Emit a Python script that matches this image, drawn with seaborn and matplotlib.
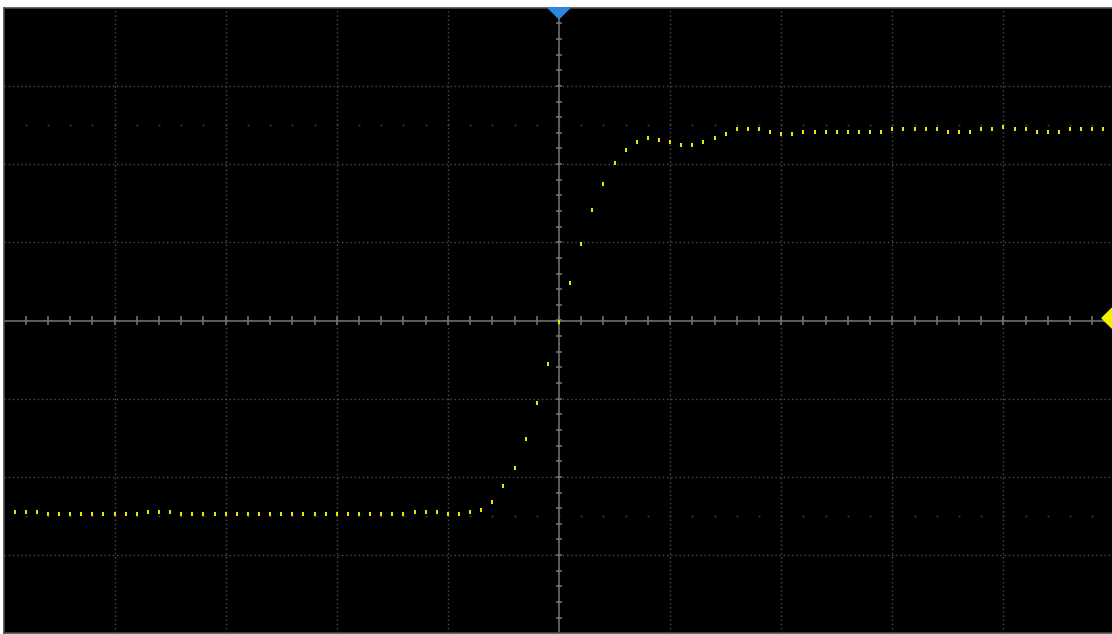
import numpy as np
import pandas as pd
import matplotlib
matplotlib.use("Agg")
import matplotlib.pyplot as plt
import seaborn as sns

# sample positions in divisions (one sample every 0.1 div)
time_div = np.arange(-49, 50) / 10.0

# trace amplitude in divisions
volts_div = [
    -2.45, -2.45, -2.45,
    -2.48, -2.48, -2.48, -2.48, -2.48, -2.48, -2.48, -2.48, -2.48,
    -2.45, -2.45, -2.45,
    -2.48, -2.48, -2.48, -2.48, -2.48, -2.48, -2.48, -2.48, -2.48, -2.48,
    -2.48, -2.48, -2.48, -2.48, -2.48, -2.48, -2.48, -2.48, -2.48, -2.48, -2.48,
    -2.45, -2.45, -2.45,
    -2.48, -2.48,
    -2.45, -2.42, -2.32, -2.12, -1.89, -1.52, -1.06, -0.55,
    -0.02, 0.48, 0.98, 1.41, 1.75, 2.01, 2.18, 2.28, 2.34, 2.31,
    2.28, 2.24, 2.24, 2.28, 2.34, 2.38, 2.45, 2.45, 2.45, 2.41,
    2.38, 2.38, 2.41, 2.41, 2.41, 2.41, 2.41, 2.41, 2.41, 2.41,
    2.45, 2.45, 2.45, 2.45, 2.45, 2.41, 2.41, 2.41, 2.45, 2.45,
    2.48, 2.45, 2.45, 2.41, 2.41, 2.41, 2.45, 2.45, 2.45, 2.45,
]

# faint reference rows of dots
ref_levels = [2.5, -2.5]

df = pd.DataFrame({"t": time_div, "v": volts_div})

sns.set_style("dark")
fig = plt.figure(figsize=(11.12, 6.34), dpi=100, facecolor="white")
# plot area: x 3.5..1114.5 px, y 7.7..633.3 px
ax = fig.add_axes([3.5 / 1112, 0.7 / 634, 1111 / 1112, 625.6 / 634])
ax.set_facecolor("black")
ax.set_xlim(-5, 5)
ax.set_ylim(-4, 4)
ax.set_xticks([])
ax.set_yticks([])
ax.grid(False)
for s in ax.spines.values():
    s.set_color("#4a4a4a")
    s.set_linewidth(1.2)

# dotted grid
for gx in range(-4, 5):
    if gx != 0:
        ax.axvline(gx, color="#4d4d4d", lw=1.0, ls=(0, (1, 2)), zorder=1)
for gy in range(-3, 4):
    if gy != 0:
        ax.axhline(gy, color="#4d4d4d", lw=1.0, ls=(0, (1, 2)), zorder=1)

# reference dot rows
minor_x = np.arange(-4.8, 4.81, 0.2)
for lv in ref_levels:
    ax.plot(minor_x, np.full_like(minor_x, lv), ls="none", marker="s",
            ms=1.3, color="#3a3a3a", mec="none", zorder=1)

# centre axes with ticks
ax.axhline(0, color="#777777", lw=1.1, zorder=2)
ax.axvline(0, color="#777777", lw=1.1, zorder=2)
ax.vlines(np.arange(-4.8, 4.81, 0.2), -0.06, 0.06, color="#777777", lw=1.1, zorder=2)
ax.hlines(np.arange(-3.8, 3.81, 0.2), -0.03, 0.03, color="#777777", lw=1.1, zorder=2)

# trace samples
rect = [(-1, -1.6), (1, -1.6), (1, 1.6), (-1, 1.6), (-1, -1.6)]
sns.scatterplot(data=df, x="t", y="v", ax=ax, color="#e6e600", marker=rect,
                s=9, linewidth=0, zorder=5, legend=False)
ax.set_xlabel("")
ax.set_ylabel("")

# trigger position marker (top) and trigger level marker (right)
ax.fill([-0.1, 0.1, 0.0], [4.0, 4.0, 3.86], color="#2f86dd", clip_on=False, zorder=6)
ax.fill([4.887, 4.98, 5.07, 4.98], [0.03, 0.16, 0.03, -0.10], color="#f2f200",
        clip_on=False, zorder=6)

fig.savefig("out.png", dpi=100, facecolor="white")
